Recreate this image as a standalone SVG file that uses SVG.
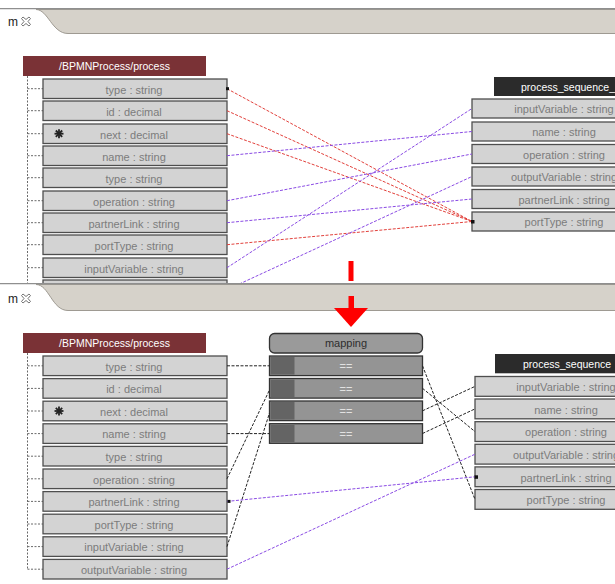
<svg xmlns="http://www.w3.org/2000/svg" width="615" height="584" viewBox="0 0 615 584">
<style>
  text { font-family: "Liberation Sans", Arial, sans-serif; }
  .row { fill: #d3d3d3; stroke: #4e4e4e; stroke-width: 1.3; }
  .rt { font-size: 11px; fill: #7c7c7c; text-anchor: middle; }
  .hdr1 { fill: #7a3236; }
  .hdr2 { fill: #2b2b2b; }
  .ht { font-size: 10.5px; fill: #ffffff; }
  .tree { stroke: #6a6a6a; stroke-width: 1; stroke-dasharray: 2 1.5; fill: none; }
  .red { stroke: #e2413c; stroke-width: 1; stroke-dasharray: 3 1.5; fill: none; }
  .pur { stroke: #8a4be4; stroke-width: 1; stroke-dasharray: 3 1.5; fill: none; }
  .blk { stroke: #222222; stroke-width: 1; stroke-dasharray: 3 1.5; fill: none; }
  .mrow { fill: #949494; stroke: #333333; stroke-width: 1.3; }
  .mblk { fill: #646464; }
  .mt { font-size: 11px; fill: #e2e2e2; text-anchor: middle; }
  .tabbar { fill: #d6d2ca; stroke: #9e9a92; stroke-width: 1; }
  .tabline { stroke: #8f8f8f; stroke-width: 1.2; }
  .tabt { font-size: 12px; fill: #222; }
  .star { stroke: #222; stroke-width: 1.8; }
</style>

<!-- ===== TOP PANEL ===== -->
<g id="top-source">
  <rect class="hdr1" x="23" y="56" width="183" height="20"/>
  <text class="ht" x="114.5" y="70" text-anchor="middle">/BPMNProcess/process</text>
  <path class="tree" d="M27.5 76 V285 M27.5 88.7 H43 M27.5 110.7 H43 M27.5 133.7 H43 M27.5 155.7 H43 M27.5 177.7 H43 M27.5 200.7 H43 M27.5 222.7 H43 M27.5 244.7 H43 M27.5 267.7 H43"/>
  <rect class="row" x="43" y="79" width="184" height="19.5"/>
  <text class="rt" x="134" y="93.5">type : string</text>
  <rect class="row" x="43" y="101" width="184" height="19.5"/>
  <text class="rt" x="134" y="115.5">id : decimal</text>
  <rect class="row" x="43" y="124" width="184" height="19.5"/>
  <text class="rt" x="134" y="138.5">next : decimal</text>
  <g class="star">
    <line x1="54.5" y1="133.7" x2="63.5" y2="133.7"/>
    <line x1="59" y1="129.2" x2="59" y2="138.2"/>
    <line x1="55.8" y1="130.5" x2="62.2" y2="136.9"/>
    <line x1="62.2" y1="130.5" x2="55.8" y2="136.9"/>
  </g>
  <rect class="row" x="43" y="146" width="184" height="19.5"/>
  <text class="rt" x="134" y="160.5">name : string</text>
  <rect class="row" x="43" y="168" width="184" height="19.5"/>
  <text class="rt" x="134" y="182.5">type : string</text>
  <rect class="row" x="43" y="191" width="184" height="19.5"/>
  <text class="rt" x="134" y="205.5">operation : string</text>
  <rect class="row" x="43" y="213" width="184" height="19.5"/>
  <text class="rt" x="134" y="227.5">partnerLink : string</text>
  <rect class="row" x="43" y="235" width="184" height="19.5"/>
  <text class="rt" x="134" y="249.5">portType : string</text>
  <rect class="row" x="43" y="258" width="184" height="19.5"/>
  <text class="rt" x="134" y="272.5">inputVariable : string</text>
  <rect class="row" x="43" y="280" width="184" height="19.5"/>
</g>

<g id="top-target">
  <rect class="hdr2" x="494" y="77" width="130" height="19"/>
  <text class="ht" x="521" y="90.5">process_sequence_</text>
  <rect class="row" x="472" y="99" width="184" height="19"/>
  <text class="rt" x="564" y="113.3">inputVariable : string</text>
  <rect class="row" x="472" y="122" width="184" height="19"/>
  <text class="rt" x="564" y="136.3">name : string</text>
  <rect class="row" x="472" y="144.5" width="184" height="19"/>
  <text class="rt" x="564" y="158.8">operation : string</text>
  <rect class="row" x="472" y="167" width="184" height="19"/>
  <text class="rt" x="564" y="181.3">outputVariable : string</text>
  <rect class="row" x="472" y="189.5" width="184" height="19"/>
  <text class="rt" x="564" y="203.8">partnerLink : string</text>
  <rect class="row" x="472" y="212" width="184" height="19"/>
  <text class="rt" x="564" y="226.3">portType : string</text>
</g>

<!-- ===== BOTTOM PANEL ===== -->
<g id="bottom-source">
  <rect class="hdr1" x="23" y="333" width="183" height="20"/>
  <text class="ht" x="114.5" y="347" text-anchor="middle">/BPMNProcess/process</text>
  <path class="tree" d="M27.5 353 V569.2 M27.5 365.8 H43 M27.5 388.4 H43 M27.5 411 H43 M27.5 433.6 H43 M27.5 456.2 H43 M27.5 478.8 H43 M27.5 501.4 H43 M27.5 524 H43 M27.5 546.6 H43 M27.5 569.2 H43"/>
  <rect class="row" x="43" y="356" width="184" height="19.6"/>
  <text class="rt" x="134" y="370.6">type : string</text>
  <rect class="row" x="43" y="378.6" width="184" height="19.6"/>
  <text class="rt" x="134" y="393.2">id : decimal</text>
  <rect class="row" x="43" y="401.2" width="184" height="19.6"/>
  <text class="rt" x="134" y="415.8">next : decimal</text>
  <g class="star">
    <line x1="54.5" y1="411" x2="63.5" y2="411"/>
    <line x1="59" y1="406.5" x2="59" y2="415.5"/>
    <line x1="55.8" y1="407.8" x2="62.2" y2="414.2"/>
    <line x1="62.2" y1="407.8" x2="55.8" y2="414.2"/>
  </g>
  <rect class="row" x="43" y="423.8" width="184" height="19.6"/>
  <text class="rt" x="134" y="438.4">name : string</text>
  <rect class="row" x="43" y="446.4" width="184" height="19.6"/>
  <text class="rt" x="134" y="461">type : string</text>
  <rect class="row" x="43" y="469" width="184" height="19.6"/>
  <text class="rt" x="134" y="483.6">operation : string</text>
  <rect class="row" x="43" y="491.6" width="184" height="19.6"/>
  <text class="rt" x="134" y="506.2">partnerLink : string</text>
  <rect class="row" x="43" y="514.2" width="184" height="19.6"/>
  <text class="rt" x="134" y="528.8">portType : string</text>
  <rect class="row" x="43" y="536.8" width="184" height="19.6"/>
  <text class="rt" x="134" y="551.4">inputVariable : string</text>
  <rect class="row" x="43" y="559.4" width="184" height="19.6"/>
  <text class="rt" x="134" y="574">outputVariable : string</text>
</g>

<g id="mapping">
  <rect x="269.5" y="333.5" width="153" height="19.5" rx="5" fill="#9a9a9a" stroke="#333333" stroke-width="1.3"/>
  <text x="346" y="347.4" font-size="11" fill="#2e2e2e" text-anchor="middle">mapping</text>
  <rect class="mrow" x="269.5" y="356" width="153" height="19.6"/>
  <rect class="mblk" x="270.5" y="357" width="24" height="17.6"/>
  <text class="mt" x="346" y="370.3">==</text>
  <rect class="mrow" x="269.5" y="378.5" width="153" height="19.6"/>
  <rect class="mblk" x="270.5" y="379.5" width="24" height="17.6"/>
  <text class="mt" x="346" y="392.8">==</text>
  <rect class="mrow" x="269.5" y="401" width="153" height="19.6"/>
  <rect class="mblk" x="270.5" y="402" width="24" height="17.6"/>
  <text class="mt" x="346" y="415.3">==</text>
  <rect class="mrow" x="269.5" y="423.7" width="153" height="19.6"/>
  <rect class="mblk" x="270.5" y="424.7" width="24" height="17.6"/>
  <text class="mt" x="346" y="438">==</text>
</g>

<g id="bottom-target">
  <rect class="hdr2" x="495" y="354" width="130" height="19.3"/>
  <text class="ht" x="523" y="367.5">process_sequence</text>
  <rect class="row" x="475" y="376.5" width="184" height="19.8"/>
  <text class="rt" x="566" y="391.2">inputVariable : string</text>
  <rect class="row" x="475" y="399" width="184" height="19.8"/>
  <text class="rt" x="566" y="413.7">name : string</text>
  <rect class="row" x="475" y="421.7" width="184" height="19.8"/>
  <text class="rt" x="566" y="436.4">operation : string</text>
  <rect class="row" x="475" y="444.3" width="184" height="19.8"/>
  <text class="rt" x="566" y="459">outputVariable : string</text>
  <rect class="row" x="475" y="466.9" width="184" height="19.8"/>
  <text class="rt" x="566" y="481.6">partnerLink : string</text>
  <rect class="row" x="475" y="489.5" width="184" height="19.8"/>
  <text class="rt" x="566" y="504.2">portType : string</text>
</g>

<!-- ===== CONNECTORS ===== -->
<g id="connectors">
  <line class="red" x1="227" y1="88.7" x2="472" y2="221.5"/>
  <line class="red" x1="227" y1="110.7" x2="472" y2="221.5"/>
  <line class="red" x1="227" y1="133.7" x2="472" y2="221.5"/>
  <line class="red" x1="227" y1="244.7" x2="472" y2="221.5"/>
  <line class="pur" x1="227" y1="155.7" x2="472" y2="131.5"/>
  <line class="pur" x1="227" y1="200.7" x2="472" y2="154"/>
  <line class="pur" x1="227" y1="222.7" x2="472" y2="199"/>
  <line class="pur" x1="227" y1="267.7" x2="472" y2="108.5"/>
  <line class="pur" x1="227" y1="289.7" x2="472" y2="176.5"/>
  <rect x="226" y="87.2" width="3" height="3" fill="#111"/>
  <rect x="471" y="220" width="3.5" height="3.5" fill="#111"/>

  <line class="blk" x1="227" y1="365.8" x2="269.5" y2="365.8"/>
  <line class="blk" x1="227" y1="433.6" x2="269.5" y2="433.6"/>
  <line class="blk" x1="227" y1="478.8" x2="269.5" y2="390"/>
  <line class="blk" x1="227" y1="546.6" x2="269.5" y2="413"/>
  <line class="blk" x1="422.5" y1="365.8" x2="475" y2="499.4"/>
  <line class="blk" x1="422.5" y1="388.3" x2="475" y2="431.6"/>
  <line class="blk" x1="422.5" y1="410.8" x2="475" y2="386.4"/>
  <line class="blk" x1="422.5" y1="433.5" x2="475" y2="408.9"/>
  <line class="pur" x1="227" y1="501.4" x2="475" y2="476.8"/>
  <line class="pur" x1="227" y1="569.2" x2="475" y2="454.2"/>
  <rect x="227.5" y="499.9" width="3" height="3" fill="#111"/>
  <rect x="474.5" y="475.3" width="3.5" height="3.5" fill="#111"/>
</g>

<!-- ===== TAB BARS ===== -->
<g id="tabbar-top">
  <rect x="0" y="9" width="615" height="25" fill="#ffffff"/>
  <path class="tabbar" d="M36 9.5 C48 9.5 52 33.5 68 33.5 H616 V9.5 Z"/>
  <line class="tabline" x1="0" y1="8.6" x2="615" y2="8.6"/>
  <text class="tabt" x="8" y="26">m</text>
  <path d="M23 17 l3 2.5 l3 -2.5 l1.5 1.5 l-2.5 3 l2.5 3 l-1.5 1.5 l-3 -2.5 l-3 2.5 l-1.5 -1.5 l2.5 -3 l-2.5 -3 Z" fill="none" stroke="#666" stroke-width="0.9"/>
</g>
<g id="tabbar-bottom">
  <rect x="0" y="284" width="615" height="27" fill="#ffffff"/>
  <path class="tabbar" d="M36 284.5 C49 284.5 52 310.5 68 310.5 H616 V284.5 Z"/>
  <line class="tabline" x1="0" y1="283.6" x2="615" y2="283.6"/>
  <text class="tabt" x="8" y="303">m</text>
  <path d="M23 294 l3 2.5 l3 -2.5 l1.5 1.5 l-2.5 3 l2.5 3 l-1.5 1.5 l-3 -2.5 l-3 2.5 l-1.5 -1.5 l2.5 -3 l-2.5 -3 Z" fill="none" stroke="#666" stroke-width="0.9"/>
</g>

<!-- ===== RED ARROW ===== -->
<g id="arrow">
  <rect x="348.5" y="261" width="5" height="20" fill="#ff0000"/>
  <rect x="348.5" y="296" width="5.5" height="13" fill="#ff0000"/>
  <polygon points="334,308 368,308 351,327" fill="#ff0000"/>
</g>
</svg>
